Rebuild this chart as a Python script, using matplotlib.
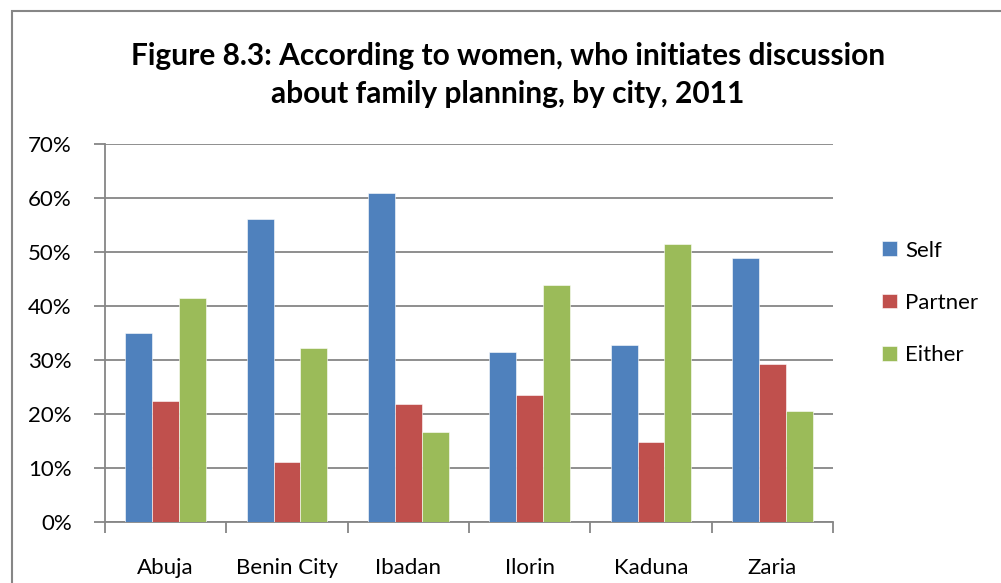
import matplotlib
matplotlib.use("Agg")
import matplotlib.pyplot as plt
import numpy as np
from matplotlib.patches import Rectangle

cities = ["Abuja", "Benin City", "Ibadan", "Ilorin", "Kaduna", "Zaria"]
series_names = ["Self", "Partner", "Either"]
self_vals = [35.0, 56.2, 60.9, 31.4, 32.7, 48.9]
partner_vals = [22.5, 11.1, 21.9, 23.6, 14.8, 29.3]
either_vals = [41.5, 32.3, 16.7, 43.8, 51.4, 20.6]
colors = ["#4F81BD", "#C0504D", "#9BBB59"]
yticks = [0, 10, 20, 30, 40, 50, 60, 70]
title = "Figure 8.3: According to women, who initiates discussion\nabout family planning, by city, 2011"

W, H = 1001, 583
fig = plt.figure(figsize=(W / 100, H / 100), dpi=100)
plt.rcParams['font.family'] = ['Lato', 'DejaVu Sans']

# outer chart border
fig.patches.append(Rectangle((12 / W, -0.1), 1.2, (H - 11) / H + 0.1, transform=fig.transFigure,
                             fill=False, edgecolor="#868686", linewidth=1.5))

ax_left, ax_right, ax_top, ax_bot = 105, 833, 144, 522
ax = fig.add_axes([ax_left / W, 1 - ax_bot / H, (ax_right - ax_left) / W, (ax_bot - ax_top) / H])

x = np.arange(len(cities))
bw = 1 / 4.5
data = [self_vals, partner_vals, either_vals]
for i, (vals, c, name) in enumerate(zip(data, colors, series_names)):
    ax.bar(x + (i - 1) * bw, vals, width=bw, color=c, label=name, zorder=3,
           edgecolor="white", linewidth=0.4)

ax.set_xlim(-0.5, len(cities) - 0.5)
ax.set_ylim(0, 70)
ax.set_yticks(yticks)
ax.set_yticklabels([f"{v}%" for v in yticks], fontsize=16)
ax.yaxis.grid(True, color="#868686", linewidth=1.3, zorder=0)
ax.set_axisbelow(True)

ax.set_xticks(x)
ax.set_xticklabels(cities, fontsize=16)
ax.set_xticks(np.arange(len(cities) + 1) - 0.5, minor=True)
ax.tick_params(axis="x", which="major", length=0, pad=26)
ax.tick_params(axis="x", which="minor", length=8, color="#868686", width=1.3, direction="out")
ax.tick_params(axis="y", length=8, color="#868686", width=1.3, pad=16)

for s in ["top", "right"]:
    ax.spines[s].set_visible(False)
for s in ["left", "bottom"]:
    ax.spines[s].set_color("#868686")
    ax.spines[s].set_linewidth(1.3)

fig.text(508 / W, 1 - 75 / H, title, ha="center", va="center", fontsize=21.5,
         fontweight="bold", linespacing=1.4)

leg = ax.legend(loc="center left", bbox_to_anchor=(1.04, 0.58), frameon=False, fontsize=16,
                handlelength=0.65, handleheight=0.65, handletextpad=0.4, labelspacing=1.45)

fig.savefig("out.png", dpi=100)
